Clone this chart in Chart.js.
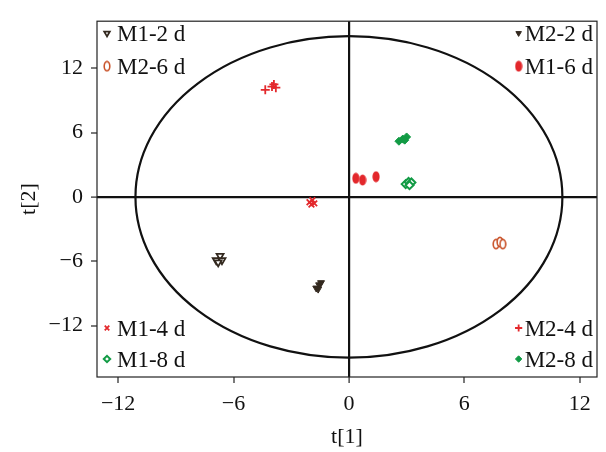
<!DOCTYPE html>
<html>
<head>
<meta charset="utf-8">
<script src="https://cdn.jsdelivr.net/npm/chart.js@4.4.1/dist/chart.umd.min.js"></script>
<style>
  html, body { margin: 0; padding: 0; background: #fff; }
  #wrap { width: 606px; height: 452px; }
</style>
</head>
<body>
<div id="wrap"><canvas id="scoreChart" width="606" height="452"></canvas></div>
<script>
// ==========================================
// 1. DATA
// ==========================================
const xTicks = [-12, -6, 0, 6, 12];
const yTicks = [-12, -6, 0, 6, 12];

const m1d2X = [-6.9, -6.7, -6.6, -6.8];
const m1d2Y = [-5.9, -5.5, -5.9, -6.1];
const m2d2X = [-1.7, -1.55, -1.45, -1.6];
const m2d2Y = [-8.5, -8.2, -8.0, -8.6];
const m1d4X = [-2.05, -1.9, -1.8, -1.95];
const m1d4Y = [-0.5, -0.3, -0.6, -0.7];
const m2d4X = [-4.35, -4.0, -3.8, -3.9];
const m2d4Y = [10.0, 10.3, 10.2, 10.5];
const m1d6X = [0.36, 0.71, 1.41];
const m1d6Y = [1.74, 1.58, 1.89];
const m2d6X = [7.65, 7.85, 8.0];
const m2d6Y = [-4.4, -4.2, -4.4];
const m1d8X = [2.95, 3.1, 3.25, 3.15];
const m1d8Y = [1.2, 1.4, 1.35, 1.1];
const m2d8X = [2.6, 2.8, 3.0, 2.9];
const m2d8Y = [5.2, 5.4, 5.6, 5.3];

// confidence ellipse semi-axes (t[1], t[2])
const ellipseAxes = [11.1, 15.0];

// ==========================================
// 2. STYLES
// ==========================================
const DARK = '#33291f';
const RED = '#e3282c';
const BROWN = '#c9532a';
const GREEN = '#129b45';

// small vertical oval marker (no built-in style for it)
function oval(fill, stroke) {
  const c = document.createElement('canvas');
  c.width = 8; c.height = 12;
  const g = c.getContext('2d');
  g.beginPath();
  g.ellipse(4, 6, 2.8, 4.6, 0, 0, Math.PI * 2);
  g.fillStyle = fill;
  g.fill();
  g.lineWidth = 1.6;
  g.strokeStyle = stroke;
  g.stroke();
  return c;
}

const pts = (xs, ys) => xs.map((x, i) => ({ x: x, y: ys[i] }));

const series = [
  { label: 'M1-2 d', data: pts(m1d2X, m1d2Y), pointStyle: 'triangle', rotation: 180, pointRadius: 4, borderColor: DARK, backgroundColor: '#fff', pointBorderWidth: 1.8, corner: 'tl' },
  { label: 'M2-6 d', data: pts(m2d6X, m2d6Y), pointStyle: oval('#fff', BROWN), pointRadius: 5, borderColor: BROWN, backgroundColor: '#fff', corner: 'tl' },
  { label: 'M2-2 d', data: pts(m2d2X, m2d2Y), pointStyle: 'triangle', rotation: 180, pointRadius: 4, borderColor: DARK, backgroundColor: DARK, pointBorderWidth: 1, corner: 'tr' },
  { label: 'M1-6 d', data: pts(m1d6X, m1d6Y), pointStyle: oval(RED, RED), pointRadius: 5, borderColor: RED, backgroundColor: RED, corner: 'tr' },
  { label: 'M1-4 d', data: pts(m1d4X, m1d4Y), pointStyle: 'crossRot', pointRadius: 4, borderColor: RED, backgroundColor: RED, pointBorderWidth: 1.8, corner: 'bl' },
  { label: 'M1-8 d', data: pts(m1d8X, m1d8Y), pointStyle: 'rectRot', pointRadius: 4, borderColor: GREEN, backgroundColor: '#fff', pointBorderWidth: 2, corner: 'bl' },
  { label: 'M2-4 d', data: pts(m2d4X, m2d4Y), pointStyle: 'cross', pointRadius: 4.5, borderColor: RED, backgroundColor: RED, pointBorderWidth: 1.8, corner: 'br' },
  { label: 'M2-8 d', data: pts(m2d8X, m2d8Y), pointStyle: 'rectRot', pointRadius: 4, borderColor: GREEN, backgroundColor: GREEN, pointBorderWidth: 1, corner: 'br' }
];

const FONT = { family: '"Liberation Serif", "Times New Roman", serif', size: 22 };

// ==========================================
// 3. PLUGINS: frame, ellipse, corner legends
// ==========================================
const framePlugin = {
  id: 'frame',
  beforeDatasetsDraw(chart) {
    const { ctx, chartArea: a, scales } = chart;
    ctx.save();
    // ellipse
    const cx = scales.x.getPixelForValue(0);
    const cy = scales.y.getPixelForValue(0);
    const rx = Math.abs(scales.x.getPixelForValue(ellipseAxes[0]) - cx);
    const ry = Math.abs(scales.y.getPixelForValue(ellipseAxes[1]) - cy);
    ctx.beginPath();
    ctx.ellipse(cx, cy, rx, ry, 0, 0, Math.PI * 2);
    ctx.lineWidth = 2.2;
    ctx.strokeStyle = '#111';
    ctx.stroke();
    // box
    ctx.lineWidth = 1.2;
    ctx.strokeStyle = '#222';
    ctx.strokeRect(a.left, a.top, a.right - a.left, a.bottom - a.top);
    ctx.restore();
  },
  afterDatasetsDraw(chart) {
    const { ctx, chartArea: a } = chart;
    ctx.save();
    ctx.font = `${FONT.size + 1}px ${FONT.family}`;
    ctx.textBaseline = 'middle';
    ctx.fillStyle = '#111';
    const rows = { tl: 0, tr: 0, bl: 0, br: 0 };
    chart.data.datasets.forEach((ds) => {
      const i = rows[ds.corner]++;
      const top = ds.corner[0] === 't';
      const left = ds.corner[1] === 'l';
      const y = top ? a.top + 14 + i * 33 : a.bottom - 47 + i * 31;
      let tx, mx;
      if (left) {
        mx = a.left + 10;
        tx = a.left + 20;
        ctx.textAlign = 'left';
        ctx.fillText(ds.label, tx, y);
      } else {
        tx = a.right - 4;
        ctx.textAlign = 'right';
        ctx.fillText(ds.label, tx, y);
        mx = tx - ctx.measureText(ds.label).width - 6;
      }
      ctx.fillStyle = ds.backgroundColor;
      ctx.strokeStyle = ds.borderColor;
      ctx.lineWidth = ds.pointBorderWidth || 1;
      Chart.helpers.drawPoint(ctx, {
        pointStyle: ds.pointStyle,
        rotation: ds.rotation || 0,
        radius: ds.pointRadius * 0.8,
        borderWidth: ds.pointBorderWidth || 1
      }, mx, y - 2);
      ctx.fillStyle = '#111';
    });
    ctx.restore();
  }
};

// ==========================================
// 4. CHART
// ==========================================
const axisGrid = {
  drawOnChartArea: true,
  color: (c) => (c.tick && c.tick.value === 0 ? '#111' : 'rgba(0,0,0,0)'),
  lineWidth: (c) => (c.tick && c.tick.value === 0 ? 2.2 : 0),
  tickColor: '#222',
  tickWidth: 1.2,
  tickLength: 6
};

const minusFmt = (v) => (v < 0 ? '\u2212' + Math.abs(v) : String(v));

new Chart(document.getElementById('scoreChart'), {
  type: 'scatter',
  data: { datasets: series },
  options: {
    responsive: false,
    animation: false,
    layout: { padding: { left: 0, top: 20, right: 9, bottom: 0 } },
    plugins: { legend: { display: false }, tooltip: { enabled: false } },
    scales: {
      x: {
        min: -13.1,
        max: 12.9,
        afterBuildTicks: (s) => { s.ticks = xTicks.map((v) => ({ value: v })); },
        afterFit: (s) => { s.height = 75; },
        grid: axisGrid,
        border: { display: false },
        ticks: { color: '#111', font: FONT, padding: 8, maxRotation: 0, callback: minusFmt },
        title: { display: true, text: 't[1]', color: '#111', font: FONT, padding: { top: 0, bottom: 2 } }
      },
      y: {
        min: -16.8,
        max: 16.4,
        afterBuildTicks: (s) => { s.ticks = yTicks.map((v) => ({ value: v })); },
        afterFit: (s) => { s.width = 97; },
        grid: axisGrid,
        border: { display: false },
        ticks: { color: '#111', font: FONT, padding: 8, callback: minusFmt },
        title: { display: true, text: 't[2]', color: '#111', font: FONT, padding: { top: 16, bottom: 0 } }
      }
    }
  },
  plugins: [framePlugin]
});
</script>
</body>
</html>
